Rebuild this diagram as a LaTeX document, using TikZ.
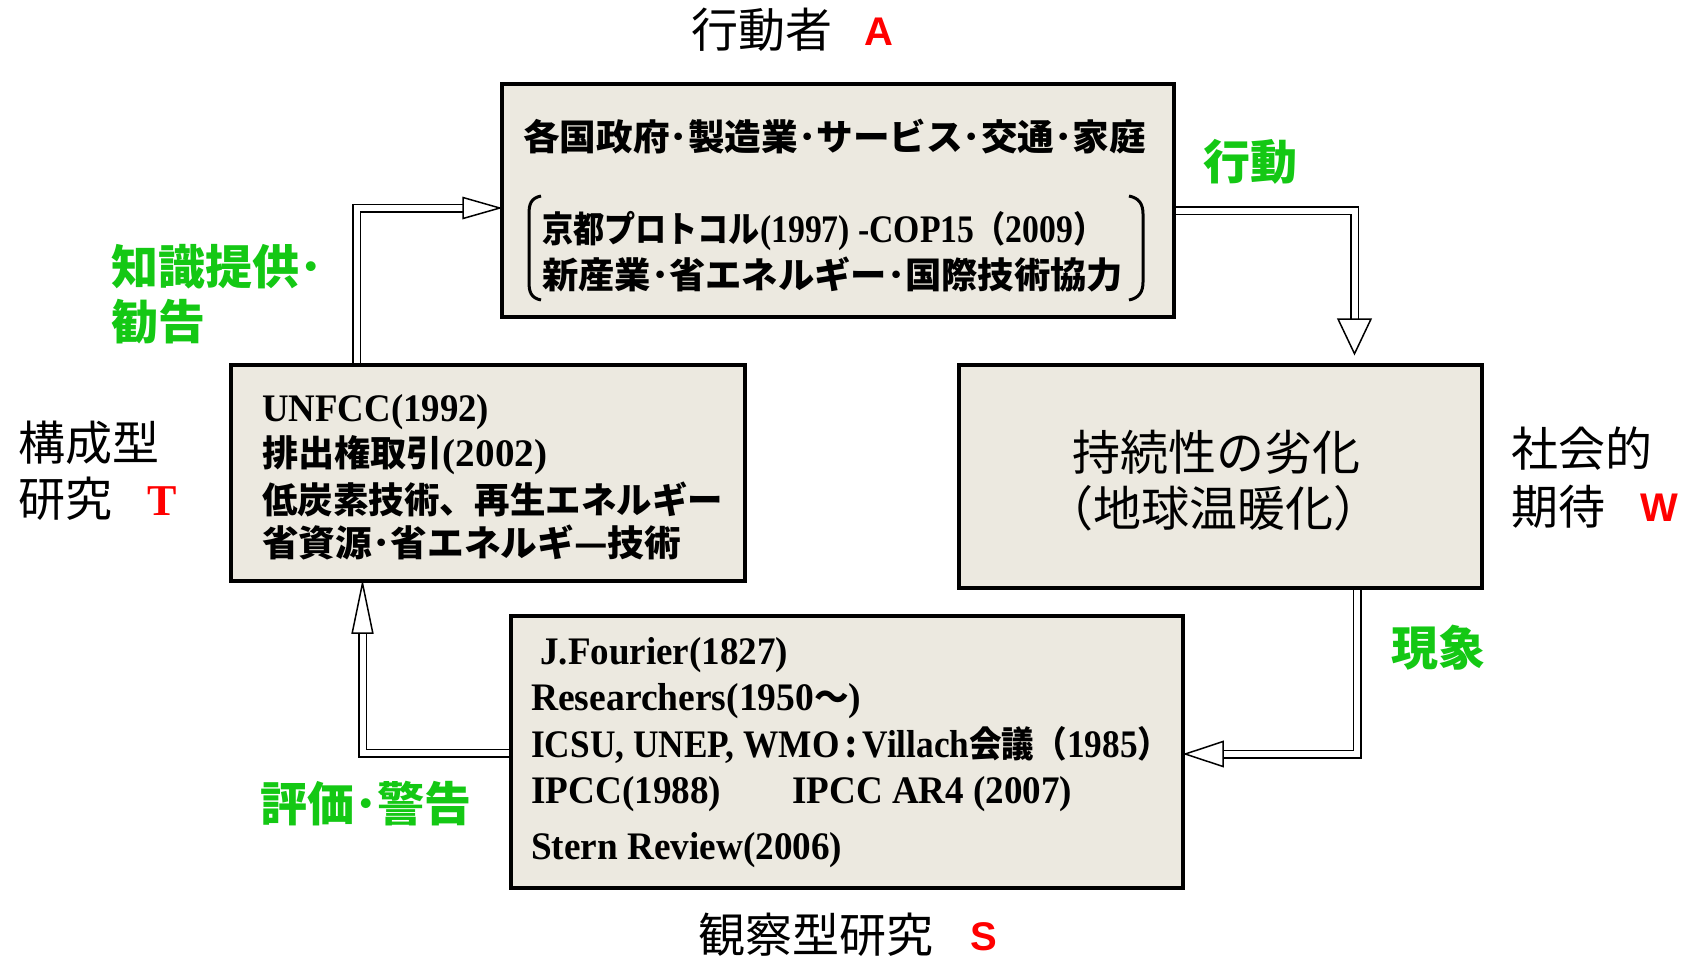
\documentclass[tikz,border=0pt]{standalone}
\usepackage{fontspec}
\usepackage{graphicx}
\setmainfont{Liberation Serif}
\newfontfamily\jp{Noto Sans CJK JP}
\newfontfamily\lsans{Liberation Sans}
\usetikzlibrary{calc,backgrounds}
\definecolor{boxfill}{RGB}{236,233,224}
\definecolor{lgreen}{RGB}{20,200,20}
\definecolor{lred}{RGB}{255,0,0}
\newcommand\J[1]{{\jp\bfseries\fontsize{36}{40}\selectfont #1}}
\newcommand\fitw[2]{\resizebox{#1pt}{\height}{#2}}
\begin{document}
\begin{tikzpicture}[x=1pt,y=-1pt,
  box/.style={draw=black, line width=4.5pt, fill=boxfill, inner sep=0pt, line join=miter},
  txt/.style={anchor=west, inner sep=0pt, font=\fontsize{39}{42}\selectfont\bfseries},
  lab/.style={anchor=west, inner sep=0pt, font=\fontsize{47}{50}\selectfont\jp},
  ctr/.style={anchor=center, inner sep=0pt, font=\fontsize{48}{52}\selectfont\jp},
  glab/.style={anchor=west, inner sep=0pt, text=lgreen, font=\fontsize{47}{50}\selectfont\jp\bfseries},
  rsans/.style={anchor=west, inner sep=0pt, text=lred, font=\fontsize{40}{44}\selectfont\lsans\bfseries},
  rserif/.style={anchor=west, inner sep=0pt, text=lred, font=\fontsize{44}{48}\selectfont\bfseries},
  dbl/.style={draw=black, line width=1.5pt, double=white, double distance=6pt, line join=miter},
  ahead/.style={draw=black, line width=1.5pt, fill=white, line join=miter},
  brk/.style={draw=black, line width=3pt}
]
\path[use as bounding box] (0,0) rectangle (1693,959);

% boxes
\node[box, minimum width=672pt, minimum height=233pt] (T) at (838,200.5) {};
\node[box, minimum width=514pt, minimum height=216pt] (L) at (488,473) {};
\node[box, minimum width=523pt, minimum height=223pt] (R) at (1220.5,476.5) {};
\node[box, minimum width=672pt, minimum height=272pt] (B) at (847,752) {};

% connectors
\begin{pgfonlayer}{background}
\fill[white] (0,0) rectangle (1693,959);
% L -> T
\coordinate (a1b) at (356.5,208);
\coordinate (a1h) at (463,208);
\draw[dbl] (a1b |- L.north) -- (a1b) -- (a1h);
\draw[ahead] ($(a1h)+(0,-10.5)$) -- (T.west |- a1h) -- ($(a1h)+(0,10.5)$) -- cycle;
% T -> R
\coordinate (a2b) at (1354.5,210.5);
\coordinate (a2h) at (1354.5,319);
\coordinate (a2t) at ($(R.north -| a2b)+(0,-9)$);
\draw[dbl] (T.east |- a2b) -- (a2b) -- (a2h);
\draw[ahead] ($(a2h)+(-16.5,0)$) -- (a2t) -- ($(a2h)+(16.5,0)$) -- cycle;
% R -> B
\coordinate (a3b) at (1357,754);
\coordinate (a3h) at (1223,754);
\draw[dbl] (a3b |- R.south) -- (a3b) -- (a3h);
\draw[ahead] ($(a3h)+(0,-12.5)$) -- (B.east |- a3h) -- ($(a3h)+(0,12.5)$) -- cycle;
% B -> L
\coordinate (a4b) at (362.5,753);
\coordinate (a4h) at (362.5,633);
\draw[dbl] (B.west |- a4b) -- (a4b) -- (a4h);
\draw[ahead] ($(a4h)+(-10.3,0)$) -- (a4h |- L.south) -- ($(a4h)+(10.3,0)$) -- cycle;
\end{pgfonlayer}

% top box text
\node[txt] (t1) at (523,137) {\fitw{623}{\J{各国政府･製造業･サービス･交通･家庭}}};
\node[txt] (t2) at (542,231) {\fitw{562}{\J{京都プロトコル}(1997) -COP15\J{（}2009\J{）}}};
\node[txt] (t3) at (542,275) {\fitw{581}{\J{新産業･省エネルギー･国際技術協力}}};
\draw[brk] (541,196) .. controls (531,198) and (529,204) .. (529,214) -- (529,282) .. controls (529,292) and (531,298) .. (541,300);
\draw[brk] (1129,196) .. controls (1139,198) and (1143,204) .. (1143,214) -- (1143,282) .. controls (1143,292) and (1139,298) .. (1129,300);

% left box text
\node[txt] (l1) at (262,412) {\fitw{227}{UNFCC(1992)}};
\node[txt] (l2) at (262,455) {\fitw{285}{\J{排出権取引}(2002)}};
\node[txt] (l3) at (262,499) {\fitw{461}{\J{低炭素技術、再生エネルギー}}};
\node[txt] (l4) at (262,542) {\fitw{419}{\J{省資源･省エネルギ—技術}}};

% bottom box text
\node[txt] (b1) at (540,655) {\fitw{248}{J.Fourier(1827)}};
\node[txt] (b2) at (531,701) {\fitw{330}{Researchers(1950\J{～})}};
\node[txt] (b3) at (531,745) {\fitw{639}{ICSU, UNEP, WMO\,\J{:}\,Villach\J{会議（}1985\J{）}}};
\node[txt] (b4) at (531,794) {\fitw{190}{IPCC(1988)}};
\node[txt] (b5) at (792,794) {\fitw{280}{IPCC AR4 (2007)}};
\node[txt] (b6) at (531,850) {\fitw{311}{Stern Review(2006)}};

% right box text
\node[ctr] (r1) at (1216,452) {持続性の劣化};
\node[ctr] (r2) at (1213,508) {（地球温暖化）};

% outer labels
\node[lab] (actor) at (691,30) {行動者};
\node[rsans] (lA) at (864,32) {A};
\node[lab] (cons1) at (18,443) {構成型};
\node[lab] (cons2) at (18,499) {研究};
\node[rserif] (lT) at (147,501) {T};
\node[lab] (soc1) at (1511,449) {社会的};
\node[lab] (soc2) at (1511,507) {期待};
\node[rsans] (lW) at (1640,508) {W};
\node[lab] (obs) at (698,935) {観察型研究};
\node[rsans] (lS) at (970,937) {S};

% green labels
\node[glab] (g1) at (1203,162) {行動};
\node[glab] (g2a) at (111,267) {知識提供･};
\node[glab] (g2b) at (111,322) {勧告};
\node[glab] (g3) at (1391,648) {現象};
\node[glab] (g4) at (260,804) {評価･警告};
\end{tikzpicture}
\end{document}
